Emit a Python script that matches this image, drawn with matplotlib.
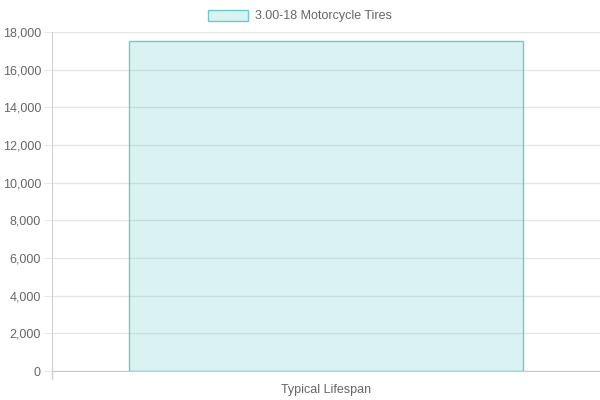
import matplotlib
matplotlib.use("Agg")
import matplotlib.pyplot as plt
from matplotlib.ticker import FuncFormatter, MultipleLocator
from matplotlib.patches import Patch

categories = ["Typical Lifespan"]
series_name = "3.00-18 Motorcycle Tires"
values = [17500]

plt.rcParams['font.family'] = ['Liberation Sans', 'DejaVu Sans']
fs = 9.0
px = 0.72  # points per pixel at 100 dpi
txt = '#666666'
grid = '#e6e6e6'
fill = (0.294, 0.753, 0.753, 0.2)
edge = (0.294, 0.753, 0.753, 0.8)

fig = plt.figure(figsize=(6, 4), dpi=100)
ax = fig.add_axes([52/600, 29/400, 548/600, 339/400])

xs = list(range(len(categories)))
ax.bar(xs, values, width=0.72, color=fill, edgecolor=edge, linewidth=1.0, zorder=3)

ax.set_xlim(-0.5, len(categories) - 0.5)
ax.set_ylim(0, 18000)
ax.yaxis.set_major_locator(MultipleLocator(2000))
ax.yaxis.set_major_formatter(FuncFormatter(lambda v, p: f"{int(v):,}"))
ax.set_xticks(xs)
ax.set_xticklabels(categories)
ax.grid(axis='y', color=grid, linewidth=1, zorder=0)

for s in ['top', 'right']:
    ax.spines[s].set_visible(False)
ax.spines['left'].set_color('#d0d0d0')
ax.spines['bottom'].set_color('#c8c8c8')
ax.tick_params(axis='y', length=8 * px, width=1 * px, color=grid, labelcolor=txt, labelsize=fs, pad=3 * px)
ax.tick_params(axis='x', length=0, labelcolor=txt, labelsize=fs, pad=13 * px)

# left boundary tick below x-axis
ax.plot([-0.5, -0.5], [0, -8 * 18000 / 339], color='#d0d0d0', linewidth=1, clip_on=False, zorder=4)

handle = Patch(facecolor=fill, edgecolor=edge, linewidth=1.0)
fig.legend([handle], [series_name], loc='center', bbox_to_anchor=(0.5, 1 - 16/400),
           frameon=False, fontsize=fs, labelcolor=txt,
           handlelength=3.2, handleheight=1.0, handletextpad=0.5, borderpad=0)

fig.savefig("out.png", dpi=100)
